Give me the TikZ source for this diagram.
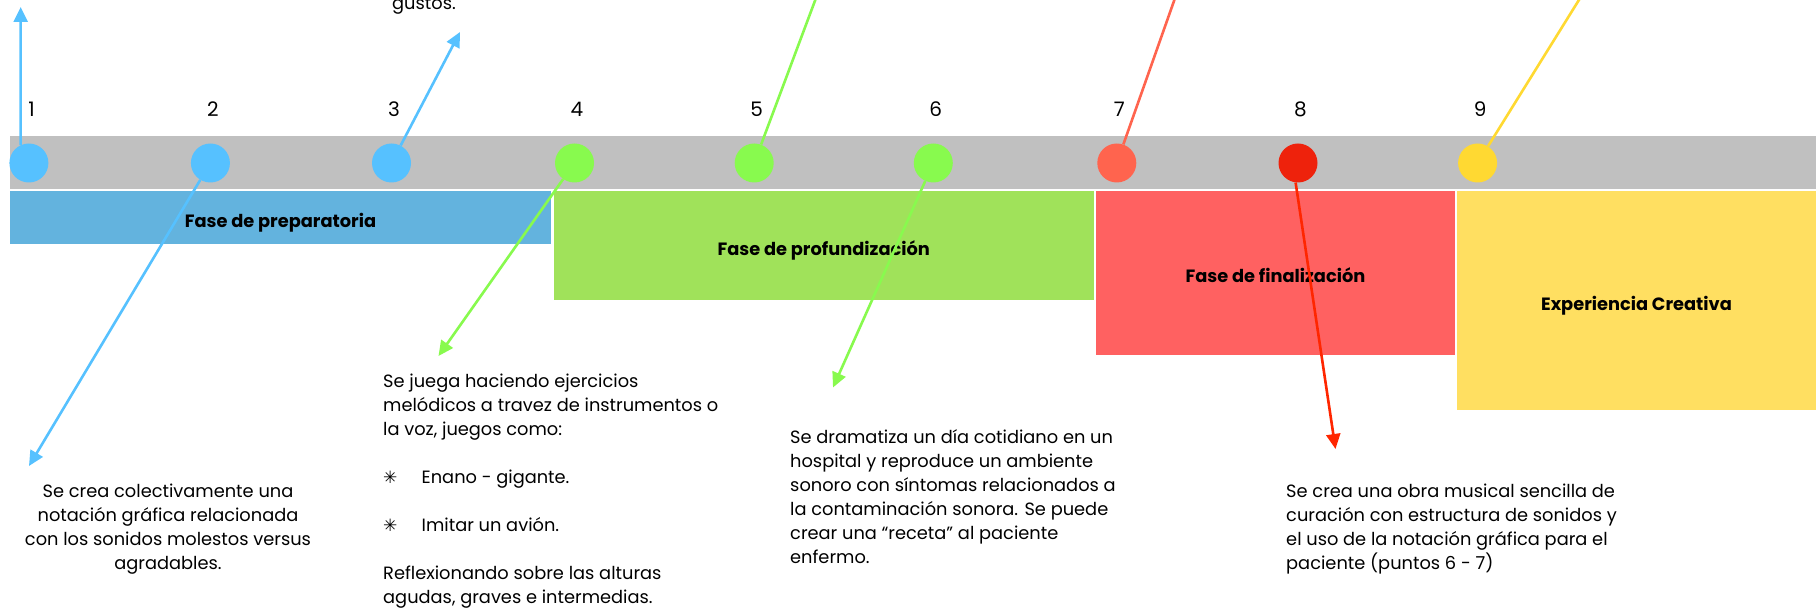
\documentclass[tikz,border=0pt]{standalone}
\usepackage{fontspec}
\setmainfont{Poppins}
\newfontfamily\simbolos{DejaVu Sans}
\usetikzlibrary{shapes,arrows,arrows.meta,positioning,calc}

\definecolor{gris}{RGB}{192,192,192}
\definecolor{azul}{RGB}{86,193,255}
\definecolor{verde}{RGB}{136,250,78}
\definecolor{salmon}{RGB}{255,100,78}
\definecolor{rojo}{RGB}{238,34,12}
\definecolor{rojoflecha}{RGB}{255,38,0}
\definecolor{amarillo}{RGB}{255,217,50}
\definecolor{faseazul}{RGB}{99,179,222}
\definecolor{faseverde}{RGB}{160,226,90}
\definecolor{faseroja}{RGB}{255,97,97}
\definecolor{faseamarilla}{RGB}{255,223,97}

\begin{document}
\begin{tikzpicture}[>={Triangle[length=15bp,width=14bp]},line join=bevel,
  hito/.style={circle,minimum size=39bp,inner sep=0pt},
  fase/.style={inner sep=0pt,text height=20bp,text depth=0pt,font=\fontsize{17.8bp}{20bp}\selectfont\bfseries},
  numero/.style={font=\fontsize{20bp}{24bp}\selectfont},
  nota/.style={inner sep=0pt,font=\fontsize{17.8bp}{24bp}\selectfont},
  flecha/.style={->,line width=2.6bp}]
%%
\useasboundingbox (0bp,0bp) rectangle (1820bp,610bp);
\clip (0bp,0bp) rectangle (1820bp,610bp);
%% barra y fases
\node (barra) at (913bp,447.5bp) [fill=gris,minimum width=1806bp,minimum height=53bp,inner sep=0pt] {};
  \node (f1) at (280.5bp,392.5bp) [fase,fill=faseazul,minimum width=541bp,minimum height=53bp] {Fase de preparatoria};
  \node (f2) at (823.75bp,364.5bp) [fase,fill=faseverde,minimum width=540.5bp,minimum height=109bp] {Fase de profundización};
  \node (f3) at (1275.5bp,337bp) [fase,fill=faseroja,minimum width=359bp,minimum height=164bp] {Fase de finalización};
  \node (f4) at (1636.5bp,309.5bp) [fase,fill=faseamarilla,minimum width=359bp,minimum height=219bp] {Experiencia Creativa};
%% hitos
\node (p1) at (28.9bp,447bp) [hito,fill=azul] {};
  \node (p2) at (210.4bp,447bp) [hito,fill=azul] {};
  \node (p3) at (391.5bp,447bp) [hito,fill=azul] {};
  \node (p4) at (574.5bp,447bp) [hito,fill=verde] {};
  \node (p5) at (754.2bp,447bp) [hito,fill=verde] {};
  \node (p6) at (933.3bp,447bp) [hito,fill=verde] {};
  \node (p7) at (1116.8bp,447bp) [hito,fill=salmon] {};
  \node (p8) at (1298bp,447bp) [hito,fill=rojo] {};
  \node (p9) at (1477.6bp,447bp) [hito,fill=amarillo] {};
  \node (n1) at (31.5bp,501bp) [numero] {1};
  \node (n2) at (212.9bp,501bp) [numero] {2};
  \node (n3) at (394bp,501bp) [numero] {3};
  \node (n4) at (577bp,501bp) [numero] {4};
  \node (n5) at (756.7bp,501bp) [numero] {5};
  \node (n6) at (935.8bp,501bp) [numero] {6};
  \node (n7) at (1119.3bp,501bp) [numero] {7};
  \node (n8) at (1300.5bp,501bp) [numero] {8};
  \node (n9) at (1480.1bp,501bp) [numero] {9};
%% textos
\node (t3) at (424bp,600bp) [nota,anchor=base] {gustos.};
  \node (t2) at (168bp,126bp) [nota,anchor=north,align=center] {Se crea colectivamente una\\notación gráfica relacionada\\con los sonidos molestos versus\\agradables.};
  \node (t4) at (383bp,236bp) [nota,anchor=north west,align=left] {Se juega haciendo ejercicios\\melódicos a travez de instrumentos o\\la voz, juegos como:\\[24bp]\makebox[38.5bp][l]{\simbolos\fontsize{17bp}{24bp}\selectfont ✳}Enano - gigante.\\[24bp]\makebox[38.5bp][l]{\simbolos\fontsize{17bp}{24bp}\selectfont ✳}Imitar un avión.\\[24bp]Reflexionando sobre las alturas\\agudas, graves e intermedias.};
  \node (t6) at (790bp,181bp) [nota,anchor=north west,align=left] {Se dramatiza un día cotidiano en un\\hospital y reproduce un ambiente\\sonoro con síntomas relacionados a\\la contaminación sonora. Se puede\\crear una “receta” al paciente\\enfermo.};
  \node (t8) at (1286bp,126bp) [nota,anchor=north west,align=left] {Se crea una obra musical sencilla de\\curación con estructura de sonidos y\\el uso de la notación gráfica para el\\paciente (puntos 6 - 7)};
%% puntas
\coordinate (a1) at (20.7bp,603bp);
  \coordinate (a2) at (29bp,144bp);
  \coordinate (a3) at (460bp,578bp);
  \coordinate (a4) at (438.5bp,254bp);
  \coordinate (a5) at (834bp,660bp);
  \coordinate (a6) at (833bp,222.5bp);
  \coordinate (a7) at (1192bp,660bp);
  \coordinate (a8) at (1335.5bp,161bp);
  \coordinate (a9) at (1610bp,660bp);
%% flechas
\draw [flecha,azul] (p1.115) -- (a1);
  \draw [flecha,azul] (p2) -- (a2);
  \draw [flecha,azul] (p3) -- (a3);
  \draw [flecha,verde] (p4) -- (a4);
  \draw [flecha,verde] (p5) -- (a5);
  \draw [flecha,verde] (p6) -- (a6);
  \draw [flecha,salmon] (p7) -- (a7);
  \draw [flecha,rojoflecha] (p8.263) -- (a8);
  \draw [flecha,amarillo] (p9) -- (a9);
%
\end{tikzpicture}
\end{document}
